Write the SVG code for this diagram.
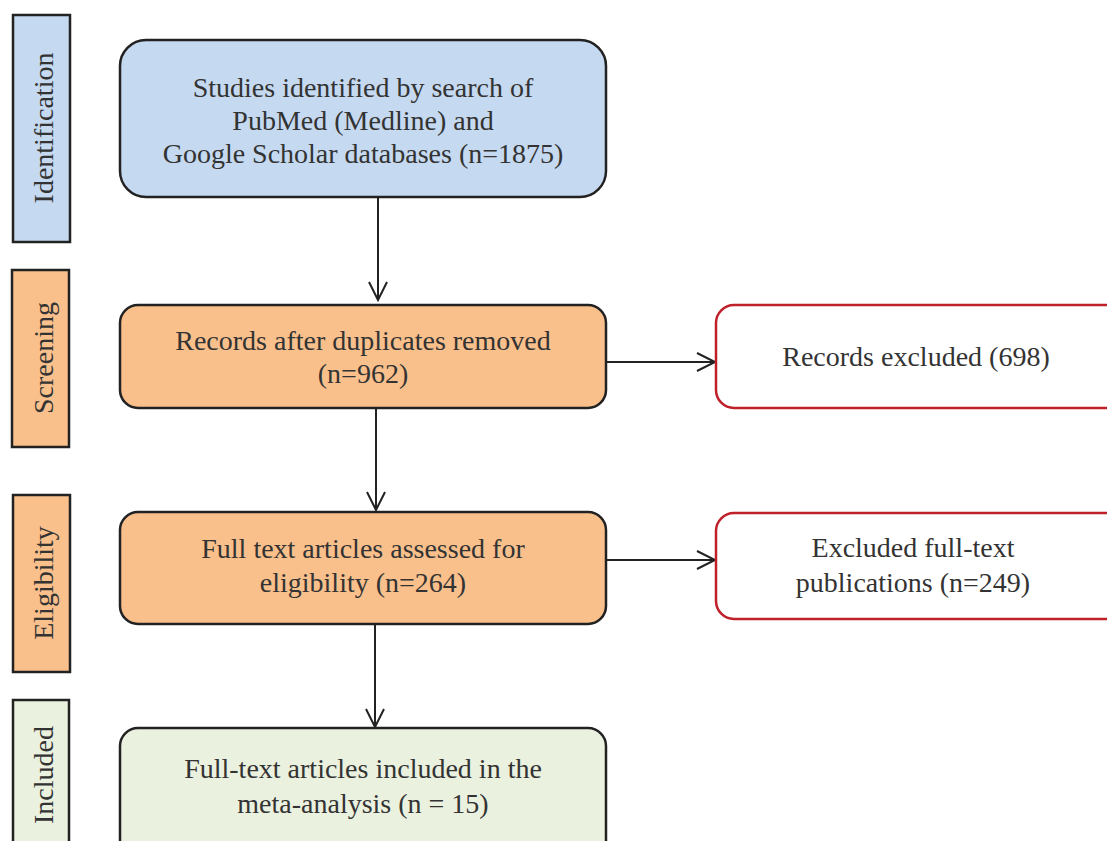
<svg xmlns="http://www.w3.org/2000/svg" width="1107" height="841" viewBox="0 0 1107 841">
<style>
text{font-family:"Liberation Serif","Times New Roman",serif;font-size:28px;fill:#333;text-anchor:middle}
.bar{stroke:#222;stroke-width:2.5}
.box{stroke:#222;stroke-width:2.5}
.red{fill:#fff;stroke:#c0202a;stroke-width:2.5}
.blue{fill:#c5d9f0}
.orange{fill:#f9c08c}
.green{fill:#ebf1df}
.conn{stroke:#222;stroke-width:2;fill:none}
</style>
<defs>
<marker id="arr" markerWidth="24" markerHeight="24" refX="20" refY="10" orient="auto" markerUnits="userSpaceOnUse" viewBox="0 0 24 24">
<path d="M2,1 L20,10 L2,19" fill="none" stroke="#222" stroke-width="2"/>
</marker>
</defs>
<rect width="1107" height="841" fill="#fff"/>
<g id="bar-identification"><rect class="bar blue" x="13" y="15" width="57" height="227"/><text transform="translate(53,128) rotate(-90)">Identification</text></g>
<g id="bar-screening"><rect class="bar orange" x="12" y="270" width="57" height="177"/><text transform="translate(53,358) rotate(-90)">Screening</text></g>
<g id="bar-eligibility"><rect class="bar orange" x="13" y="495" width="57" height="177"/><text transform="translate(53,583) rotate(-90)">Eligibility</text></g>
<g id="bar-included"><rect class="bar green" x="13" y="700" width="56" height="160"/><text transform="translate(53,775) rotate(-90)">Included</text></g>

<g id="connectors">
<line class="conn" x1="378" y1="197" x2="378" y2="300" marker-end="url(#arr)"/>
<line class="conn" x1="376" y1="408" x2="376" y2="510" marker-end="url(#arr)"/>
<line class="conn" x1="375" y1="624" x2="375" y2="727" marker-end="url(#arr)"/>
<line class="conn" x1="606" y1="362" x2="715" y2="362" marker-end="url(#arr)"/>
<line class="conn" x1="606" y1="560" x2="715" y2="560" marker-end="url(#arr)"/>
</g>

<g id="node-identified"><rect class="box blue" x="120" y="40" width="486" height="157" rx="26"/>
<text x="363" y="97">Studies identified by search of</text>
<text x="363" y="130">PubMed (Medline) and</text>
<text x="363" y="163">Google Scholar databases (n=1875)</text></g>

<g id="node-records"><rect class="box orange" x="120" y="305" width="486" height="103" rx="18"/>
<text x="363" y="350">Records after duplicates removed</text>
<text x="363" y="383">(n=962)</text></g>

<g id="node-excluded-records"><rect class="red" x="716" y="305" width="410" height="103" rx="18"/>
<text x="916" y="366">Records excluded (698)</text></g>

<g id="node-fulltext"><rect class="box orange" x="120" y="512" width="486" height="112" rx="18"/>
<text x="363" y="558">Full text articles assessed for</text>
<text x="363" y="592">eligibility (n=264)</text></g>

<g id="node-excluded-fulltext"><rect class="red" x="716" y="513" width="410" height="106" rx="18"/>
<text x="913" y="557">Excluded full-text</text>
<text x="913" y="592">publications (n=249)</text></g>

<g id="node-included"><rect class="box green" x="120" y="728" width="486" height="140" rx="18"/>
<text x="363" y="778">Full-text articles included in the</text>
<text x="363" y="813">meta-analysis (n = 15)</text></g>
</svg>
